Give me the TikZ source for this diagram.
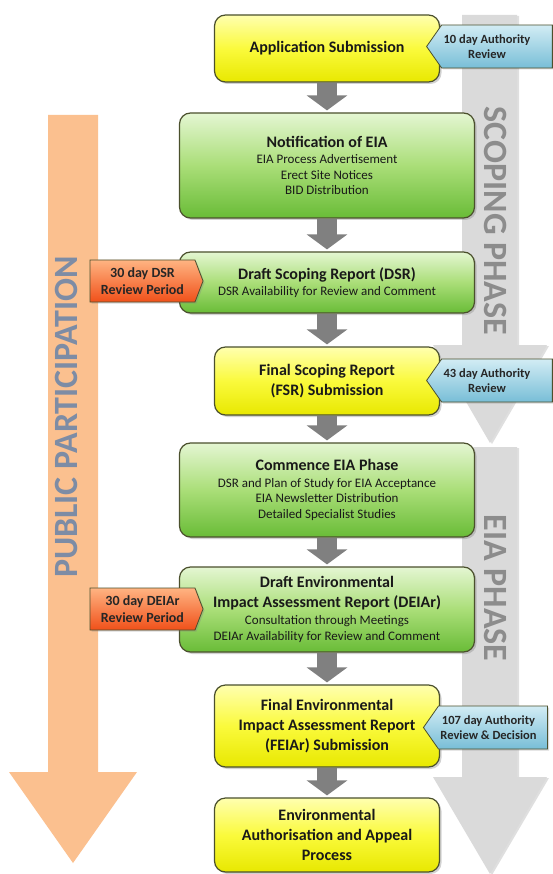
\documentclass[tikz,border=0pt]{standalone}
\usepackage{fontspec}
\setmainfont{Carlito}
\usepackage{tikz}
\usetikzlibrary{shapes.symbols,shadows,arrows.meta}

\definecolor{yelTop}{RGB}{255,255,175}
\definecolor{yelMid}{RGB}{250,250,60}
\definecolor{yelBot}{RGB}{232,232,0}
\definecolor{grnTop}{RGB}{228,246,210}
\definecolor{grnMid}{RGB}{170,222,120}
\definecolor{grnBot}{RGB}{105,188,55}
\definecolor{bluTop}{RGB}{210,236,244}
\definecolor{bluBot}{RGB}{120,190,215}
\definecolor{orgTop}{RGB}{255,180,130}
\definecolor{orgBot}{RGB}{240,80,25}
\definecolor{boxline}{RGB}{75,80,45}
\definecolor{arrowgray}{RGB}{128,128,128}
\definecolor{phasegray}{RGB}{218,218,218}
\definecolor{peach}{RGB}{251,192,143}
\definecolor{subgreen}{RGB}{40,70,30}
\definecolor{phasetext}{RGB}{140,140,140}
\definecolor{publictext}{RGB}{125,140,165}

\newcommand{\titlefont}{\fontsize{16}{20}\selectfont\bfseries}
\newcommand{\subfont}{\fontsize{13}{15.5}\selectfont\mdseries\color{subgreen}}
% keeps the tag text off the right edge
\newcommand{\tagpad}[1][20pt]{\rule{#1}{0pt}}

\begin{document}
\begin{tikzpicture}[x=1pt, y=-1pt,
  boxbase/.style={draw=boxline, line width=1.2pt, rounded corners=11pt, align=center,
    text=black!90,
    drop shadow={shadow xshift=2pt, shadow yshift=-2pt, opacity=.35}},
  yellowbox/.style={boxbase, top color=yelTop, bottom color=yelBot, middle color=yelMid,
    minimum width=225pt, font=\titlefont},
  greenbox/.style={boxbase, top color=grnTop, bottom color=grnBot, middle color=grnMid,
    minimum width=295pt, font=\subfont},
  bluetag/.style={signal, signal to=west, signal pointer angle=110, draw=boxline,
    line width=.8pt, top color=bluTop, bottom color=bluBot, align=center,
    minimum width=125pt, minimum height=43pt, inner xsep=2pt,
    font=\fontsize{12.5}{15}\selectfont\bfseries, text=black!85,
    drop shadow={shadow xshift=1.5pt, shadow yshift=-1.5pt, opacity=.3}},
  orangetag/.style={signal, signal to=east, signal pointer angle=138, draw=boxline,
    line width=.8pt, top color=orgTop, bottom color=orgBot, align=center,
    minimum width=113pt, minimum height=42pt, inner xsep=2pt,
    font=\fontsize{14}{16.5}\selectfont\bfseries, text=black!85,
    drop shadow={shadow xshift=1.5pt, shadow yshift=-1.5pt, opacity=.3}},
  flowarrow/.style={draw=arrowgray, line width=20pt,
    -{Triangle[width=40pt,length=15pt]}, shorten >=2pt},
  phasearrow/.style={fill=phasegray,
    drop shadow={shadow xshift=2pt, shadow yshift=-1pt, opacity=.25}},
  phaselabel/.style={text=phasetext, font=\fontsize{34}{34}\selectfont\bfseries}]

\fill[white] (0,0) rectangle (552,874);
\useasboundingbox (0,0) rectangle (552,874);

% big phase arrows
\fill[phasearrow] (462,15) -- (517,15) -- (517,345) -- (547,345) -- (490,443)
  -- (433,345) -- (462,345) -- cycle;
\fill[phasearrow] (462,447) -- (517,447) -- (517,777) -- (547,777) -- (490,874)
  -- (433,777) -- (462,777) -- cycle;
\fill[fill=peach] (48,115) -- (98,115) -- (98,772) -- (137,772) -- (73,863)
  -- (9,772) -- (48,772) -- cycle;

\node[phaselabel, rotate=-90] (scopinglbl) at (496,221) {SCOPING PHASE};
\node[phaselabel, rotate=-90] (eialbl) at (496,588) {EIA PHASE};
\node[phaselabel, rotate=90, text=publictext] (publiclbl) at (66,417) {PUBLIC PARTICIPATION};

% process boxes
\node[yellowbox, minimum height=67pt] (app) at (327,48.5) {Application Submission};
\node[greenbox, minimum height=105pt] (notif) at (327,165.5)
  {{\titlefont\color{black!90}Notification of EIA}\\[1pt] EIA Process Advertisement\\
   Erect Site Notices\\ BID Distribution};
\node[greenbox, minimum height=61pt] (dsr) at (327,282.5)
  {{\titlefont\color{black!90}Draft Scoping Report (DSR)}\\[1pt]
   DSR Availability for Review and Comment};
\node[yellowbox, minimum height=68pt] (fsr) at (327,381)
  {Final Scoping Report\\ (FSR) Submission};
\node[greenbox, minimum height=94pt] (commence) at (327,490)
  {{\titlefont\color{black!90}Commence EIA Phase}\\[1pt]
   DSR and Plan of Study for EIA Acceptance\\ EIA Newsletter Distribution\\
   Detailed Specialist Studies};
\node[greenbox, minimum height=85pt] (deiar) at (327,609.5)
  {{\titlefont\color{black!90}Draft Environmental}\\[4.5pt]
   {\titlefont\color{black!90}Impact Assessment Report (DEIAr)}\\[1.5pt]
   Consultation through Meetings\\ DEIAr Availability for Review and Comment};
\node[yellowbox, minimum height=82pt] (feiar) at (327,726)
  {Final Environmental\\ Impact Assessment Report\\ (FEIAr) Submission};
\node[yellowbox, minimum height=74pt] (auth) at (327,835)
  {Environmental\\ Authorisation and Appeal\\ Process};

% flow between the boxes
\draw[flowarrow] (app.south) -- (notif.north);
\draw[flowarrow] (notif.south) -- (dsr.north);
\draw[flowarrow] (dsr.south) -- (fsr.north);
\draw[flowarrow] (fsr.south) -- (commence.north);
\draw[flowarrow] (commence.south) -- (deiar.north);
\draw[flowarrow] (deiar.south) -- (feiar.north);
\draw[flowarrow] (feiar.south) -- (auth.north);

% review period tags
\node[bluetag] (rev10) at (497,46.5) {10 day Authority\tagpad\\ Review\tagpad};
\node[bluetag] (rev43) at (497,380.5) {43 day Authority\tagpad\\ Review\tagpad};
\node[bluetag, minimum width=118pt] (rev107) at (493,727.5)
  {107 day Authority\tagpad[9pt]\\ Review \& Decision\tagpad[9pt]};
\node[orangetag] (dsrper) at (142.5,281) {30 day DSR\\ Review Period};
\node[orangetag] (deiarper) at (142.5,609) {30 day DEIAr\\ Review Period};
%\node[orangetag] (extra) at (142.5,700) {};
\end{tikzpicture}
\end{document}
